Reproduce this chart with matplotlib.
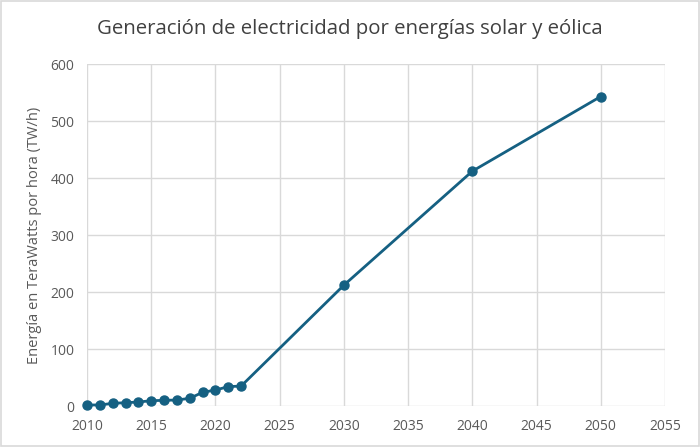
import matplotlib
matplotlib.use('Agg')
import matplotlib.pyplot as plt

years = [2010, 2011, 2012, 2013, 2014, 2015, 2016, 2017, 2018, 2019, 2020, 2021, 2022, 2030, 2040, 2050]
energia = [1.8, 1.8, 4.7, 5.8, 7, 9.3, 10, 10.5, 13.5, 24, 28, 34, 35, 212, 412, 543]

linecol = '#156082'
gridcol = '#d9d9d9'
textcol = '#595959'

plt.rcParams['font.family'] = ['Open Sans', 'DejaVu Sans']

fig = plt.figure(figsize=(7, 4.47), dpi=100)
ax = fig.add_axes([0.1243, 0.0917, 0.8257, 0.7651])

ax.plot(years, energia, color=linecol, linewidth=2, marker='o', markersize=6.5,
        clip_on=False, zorder=3)

ax.set_xlim(2010, 2055)
ax.set_ylim(0, 600)
ax.set_xticks(range(2010, 2056, 5))
ax.set_yticks(range(0, 601, 100))
ax.grid(True, color=gridcol, linewidth=1)
ax.set_axisbelow(True)
for s in ax.spines.values():
    s.set_visible(False)
ax.tick_params(length=0, labelsize=10, labelcolor=textcol, pad=9)
ax.set_ylabel('Energía en TeraWatts por hora (TW/h)', fontsize=10.5, color=textcol, labelpad=6)

fig.text(0.5, 0.935, 'Generación de electricidad por energías solar y eólica',
         ha='center', va='center', fontsize=14.7, color='#404040')

# outer frame
fig.patches.append(plt.Rectangle((0.002, 0.002), 0.996, 0.996, transform=fig.transFigure,
                                 fill=False, edgecolor='#d9d9d9', linewidth=1.2))

fig.savefig('out.png', dpi=100)
